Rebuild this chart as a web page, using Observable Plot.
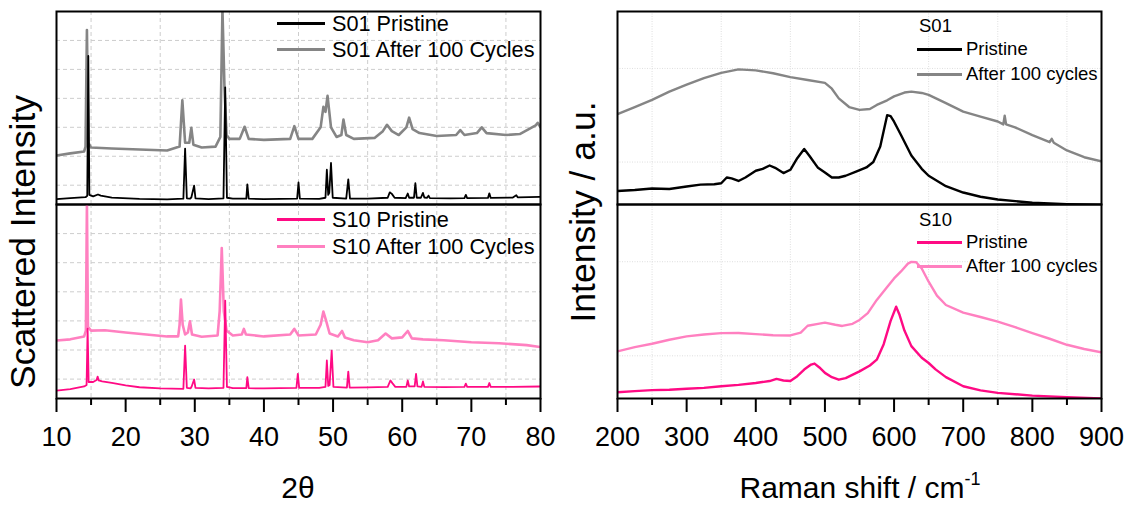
<!DOCTYPE html>
<html><head><meta charset="utf-8">
<script src="https://cdn.jsdelivr.net/npm/d3@7"></script>
<script src="https://cdn.jsdelivr.net/npm/@observablehq/plot@0.6"></script>
<style>
body{margin:0;background:#fff;}
#chart{position:relative;width:1126px;height:505px;overflow:hidden;font-family:"Liberation Sans",Arial,Helvetica,sans-serif;color:#000;background:#fff;}
.lab{position:absolute;white-space:nowrap;line-height:1;}
.leg{position:absolute;display:flex;align-items:center;white-space:nowrap;line-height:1;}
.leg .sw{display:inline-block;}
</style></head><body><div id="chart"></div>
<script>
// ---------- axis ticks / grid ----------
const xrdTicks = [10, 20, 30, 40, 50, 60, 70, 80];
const xrdMinor = [15, 25, 35, 45, 55, 65, 75];
const ramanTicks = [200, 300, 400, 500, 600, 700, 800, 900];
const ramanMinor = [250, 350, 450, 550, 650, 750, 850];
const xrdGridY = [10, 25, 40, 55, 70, 85];
const ramanGridY = [22, 70.5];

// ---------- series names ----------
const xrdTopNames = ["S01 Pristine", "S01 After 100 Cycles"];
const xrdBotNames = ["S10 Pristine", "S10 After 100 Cycles"];
const ramanTopHead = "S01";
const ramanBotHead = "S10";
const ramanNames = ["Pristine", "After 100 cycles"];

// ---------- XRD (2θ, intensity a.u.) ----------
const xrdS01Pristine = [[10,2.8],[12,3.3],[14.2,3.8],[14.45,4.5],[14.6,77],[14.75,5],[15.3,4.2],[16.0,5.2],[16.4,4.6],[18,3.6],[22,2.9],[26,2.7],[28.35,3],[28.6,29],[28.85,3.2],[29.3,3],[29.5,3.6],[29.9,9.8],[30.1,3.2],[32,2.8],[34.15,3.2],[34.4,60.7],[34.65,3.5],[35.5,3],[37.45,3],[37.6,10.4],[37.8,3],[40,2.8],[44.8,3],[45.0,11.4],[45.2,3],[48,2.9],[48.9,3.5],[49.1,18],[49.3,5],[49.45,6],[49.7,21.5],[49.95,3.5],[51.9,3],[52.2,13],[52.45,3],[55,3],[57.9,3.5],[58.2,6.3],[58.5,5.5],[58.9,3.5],[60.5,3.3],[60.8,5.7],[61.0,3.5],[61.7,3.5],[61.9,11],[62.1,3.5],[62.7,3.5],[63.0,6],[63.2,3.6],[63.6,3.5],[63.8,4.6],[64,3.3],[67,3.2],[69.0,3.3],[69.2,5],[69.4,3.3],[72.4,3.4],[72.6,5.8],[72.8,3.4],[76,3.6],[76.5,4.8],[76.7,3.7],[80,4]];
const xrdS01After = [[10,25.4],[12,26.5],[14.0,27.5],[14.2,30],[14.4,90.4],[14.6,32],[15,29.5],[18,29],[22,28.5],[26,28],[27.8,30],[28.2,54],[28.6,32],[29.2,32],[29.5,39.7],[29.8,31],[31,29.5],[33,30],[33.7,35],[34.0,101],[34.3,60],[34.6,36],[35,34],[36.5,34],[37.2,40.3],[37.8,34],[40,33.5],[43.8,34],[44.4,40.6],[45,34],[47,34],[48.2,40],[48.6,50.6],[48.9,48],[49.2,56.3],[49.7,40],[50.5,35],[51.2,36],[51.5,44],[51.9,36],[53,34],[56,34.5],[57.2,38],[57.8,41.3],[58.5,38],[59.5,36],[60.6,40],[61.0,45],[61.5,39],[62.5,37],[65,35.5],[67.8,36],[68.4,38.5],[69,36],[70.8,37],[71.5,40],[72.2,37],[75,36],[77,36.5],[79.3,41],[79.6,42.3],[80,40]];
const xrdS10Pristine = [[10,4.1],[12,4.8],[14,6.2],[14.35,7],[14.5,36],[14.65,8.5],[15.3,8.5],[15.8,9.5],[15.95,11.3],[16.1,9.3],[16.6,8.8],[18,8],[20,6.8],[22,5.8],[25,5.2],[28.35,5],[28.6,27.3],[28.85,5.5],[29.4,5.2],[29.55,6.2],[29.9,9.8],[30.1,5.5],[32,5.2],[34.15,5.5],[34.4,50.5],[34.65,6],[35.5,5.3],[37.45,5.3],[37.6,11],[37.8,5.3],[40,5.2],[44.7,5.5],[44.9,12.7],[45.1,5.5],[48,5.5],[48.9,6],[49.1,19.6],[49.3,6.5],[49.5,7],[49.8,24.7],[50.05,6],[52,5.6],[52.2,13.9],[52.4,5.6],[55,5.7],[57.9,6],[58.3,9.3],[58.6,7.8],[59,6],[60.6,6],[60.8,9.3],[61,6.2],[61.8,6.2],[62,12.7],[62.2,6.2],[62.8,6],[63,8.8],[63.2,6],[66,5.9],[69,6],[69.2,7.7],[69.4,6],[72.4,6],[72.6,8],[72.8,6],[76,6],[80,6.2]];
const xrdS10After = [[10,29.9],[12,30.5],[14.0,32],[14.25,35],[14.4,100.5],[14.55,37],[15,35],[17,35.2],[20,34],[23,33],[26,32],[27.6,32],[27.8,38],[28.0,51],[28.25,38],[28.6,33],[29.0,34],[29.3,39.8],[29.6,33],[31,31.8],[33.3,32.5],[33.6,45],[33.9,77.5],[34.2,45],[34.6,35],[35.5,32.5],[36.8,33],[37.1,35.9],[37.4,33],[40,32],[43.8,33],[44.4,35.9],[45,32.5],[47.5,33],[48.2,38],[48.6,44.8],[49.0,40],[49.5,33.5],[50.7,32],[51.3,34.8],[51.7,31.5],[53,30],[55,29],[56.5,30],[57.6,33.5],[58.5,31],[60,31.5],[60.8,34.8],[61.4,31],[63,30.5],[66,30],[70,29],[74,28.5],[78,27.5],[80,26.5]];

// ---------- Raman (shift cm-1, intensity a.u.) ----------
const ramanS01Pristine = [[200,7.0],[225,7.5],[250,8.3],[275,8.0],[300,9.3],[320,10.3],[340,10.5],[350,11],[358,14],[365,13.5],[375,12.2],[385,14],[400,17.5],[410,18.5],[420,20.2],[428,19],[440,16.3],[450,18],[460,24],[470,28.8],[478,25],[490,19],[500,16.6],[510,14],[520,14],[530,14.9],[545,17],[560,19.2],[570,22],[580,30],[590,46.3],[595,45.8],[600,42.9],[610,36],[625,25.4],[640,18.5],[650,14.9],[675,9.5],[700,6.2],[725,4],[750,2.6],[800,0.9],[850,0.2],[900,-0.3]];
const ramanS01After = [[200,46.8],[225,50.5],[250,54.2],[275,58.5],[300,62.1],[325,65.5],[350,68.2],[375,70],[400,69.5],[425,68],[450,66],[475,64.5],[500,63],[510,60],[520,55],[535,50.5],[550,49],[565,49.5],[575,51.6],[590,54],[600,56],[615,58],[625,58.5],[640,57.8],[650,56.8],[675,52.5],[700,48.1],[725,45.5],[750,43],[758,41.5],[760,46],[762,41.5],[775,40],[800,35.9],[825,32.3],[828,34],[831,32],[850,28],[875,24.5],[900,22.3]];
const ramanS10Pristine = [[200,3.2],[225,3.8],[250,4.3],[275,4.5],[300,5],[325,5.5],[350,6.3],[375,7],[400,8],[420,9],[430,10.1],[440,9.3],[450,9],[460,11.5],[470,14.9],[480,17.5],[485,18],[492,16],[500,13.2],[510,11],[520,9.7],[530,10.5],[550,14],[565,17],[575,20],[585,28],[595,40],[603,47.3],[608,43],[615,35],[625,27],[640,21],[650,18.3],[660,15],[675,11],[700,6.3],[725,4.2],[750,2.9],[800,1.5],[850,0.7],[900,0]];
const ramanS10After = [[200,24.3],[225,26.5],[250,28.2],[275,30.3],[300,32],[325,33],[350,33.7],[375,33.8],[400,33.2],[425,32.6],[450,32.5],[465,34],[475,37.5],[490,38.5],[500,39.1],[515,38],[525,37.4],[540,38.5],[550,40.5],[562,44],[575,50.8],[590,57.5],[600,61.9],[610,65.5],[620,69.5],[625,70.4],[632,70.2],[640,67],[650,60.2],[662,53],[675,48.2],[700,44.3],[725,42],[750,39.6],[775,36.8],[800,33.7],[825,30.8],[850,27.7],[875,25.5],[900,23.8]];

// ---------- colours ----------
const BLACK = "#000000", GREY = "#858585", PINK = "#ff0a84", LPINK = "#ff80c0";

const FONT = '"Liberation Sans", Arial, Helvetica, sans-serif';
const chart = document.getElementById("chart");

function panel({left, top, series, domain, gridX, gridY, gridStyle, bottom, ticks, minor}) {
  const mT = 2, mB = bottom ? 60 : 2, mL = 2, mR = 2, h = bottom ? 194 : 193;
  const marks = [
    Plot.ruleX(gridX, {stroke: gridStyle.stroke, strokeDasharray: gridStyle.dash, strokeWidth: 1}),
    Plot.ruleY(gridY, {stroke: gridStyle.stroke, strokeDasharray: gridStyle.dash, strokeWidth: 1}),
    ...series.map(s => Plot.line(s.data, {x: d => d[0], y: d => d[1], stroke: s.color, strokeWidth: s.w, clip: true, strokeLinejoin: "round"})),
    Plot.frame({stroke: "#000", strokeWidth: 2})
  ];
  if (bottom) {
    marks.push(Plot.axisX({ticks: ticks, tickSize: 14, tickPadding: 14, strokeWidth: 2, label: null}));
    marks.push(Plot.axisX({ticks: minor, tickSize: 7, strokeWidth: 2, tickFormat: () => "", label: null}));
  }
  const svg = Plot.plot({
    width: 484 + mL + mR, height: h + mT + mB,
    marginLeft: mL, marginRight: mR, marginTop: mT, marginBottom: mB,
    x: {domain: domain, axis: bottom ? undefined : null},
    y: {domain: [0, 100], axis: null},
    style: {background: "transparent", fontFamily: FONT, fontSize: "27px", overflow: "visible", color: "#000"},
    marks
  });
  svg.style.position = "absolute";
  svg.style.left = (left - mL) + "px";
  svg.style.top = (top - mT) + "px";
  svg.style.maxWidth = "none";
  chart.append(svg);
}

const dashGrid = {stroke: "#cdcdcd", dash: "4,3"};
const dotGrid = {stroke: "#dedede", dash: "1,1.5"};

panel({left: 56, top: 11, domain: [10, 80], gridX: xrdMinor, gridY: xrdGridY, gridStyle: dashGrid, bottom: false,
  series: [{data: xrdS01After, color: GREY, w: 2.6}, {data: xrdS01Pristine, color: BLACK, w: 1.8}]});
panel({left: 56, top: 204, domain: [10, 80], gridX: xrdMinor, gridY: xrdGridY, gridStyle: dashGrid, bottom: true, ticks: xrdTicks, minor: xrdMinor,
  series: [{data: xrdS10After, color: LPINK, w: 2.6}, {data: xrdS10Pristine, color: PINK, w: 1.8}]});
panel({left: 617, top: 11, domain: [200, 900], gridX: ramanMinor, gridY: ramanGridY, gridStyle: dotGrid, bottom: false,
  series: [{data: ramanS01After, color: GREY, w: 2.4}, {data: ramanS01Pristine, color: BLACK, w: 2.4}]});
panel({left: 617, top: 204, domain: [200, 900], gridX: ramanMinor, gridY: ramanGridY, gridStyle: dotGrid, bottom: true, ticks: ramanTicks, minor: ramanMinor,
  series: [{data: ramanS10After, color: LPINK, w: 2.4}, {data: ramanS10Pristine, color: PINK, w: 2.4}]});

// ---------- legends (HTML) ----------
function legendRow(x, cy, color, text, lineW, fs, gap) {
  const d = document.createElement("div");
  d.className = "leg";
  d.style.left = x + "px"; d.style.top = (cy - fs / 2) + "px"; d.style.height = fs + "px"; d.style.fontSize = fs + "px";
  if (color) {
    const sw = document.createElement("span");
    sw.className = "sw";
    sw.style.width = lineW + "px"; sw.style.height = "3px"; sw.style.background = color; sw.style.marginRight = gap + "px";
    d.append(sw);
  }
  const t = document.createElement("span"); t.textContent = text; d.append(t);
  chart.append(d);
}
legendRow(277, 24, BLACK, xrdTopNames[0], 48, 21.7, 7);
legendRow(277, 50, GREY, xrdTopNames[1], 48, 21.7, 7);
legendRow(277, 220, PINK, xrdBotNames[0], 48, 21.7, 7);
legendRow(277, 246.5, LPINK, xrdBotNames[1], 48, 21.7, 7);
legendRow(919, 26.5, null, ramanTopHead, 0, 18.5, 0);
legendRow(917, 49.5, BLACK, ramanNames[0], 45, 18.5, 4);
legendRow(917, 74, GREY, ramanNames[1], 45, 18.5, 4);
legendRow(919, 220, null, ramanBotHead, 0, 18.5, 0);
legendRow(917, 242, PINK, ramanNames[0], 45, 18.5, 4);
legendRow(917, 266, LPINK, ramanNames[1], 45, 18.5, 4);

// ---------- axis titles ----------
function title(html, cx, cy, fs, rotate) {
  const d = document.createElement("div");
  d.className = "lab";
  d.style.fontSize = fs + "px";
  d.innerHTML = html;
  d.style.left = cx + "px"; d.style.top = cy + "px";
  d.style.transform = "translate(-50%,-50%)" + (rotate ? " rotate(-90deg)" : "");
  chart.append(d);
}
title("Scattered Intensity", 24, 242, 35.5, true);
title("Intensity / a.u.", 584, 212, 35.5, true);
title("2θ", 298, 488, 30, false);
title('Raman shift / cm<span style="font-size:18px;position:relative;top:-13px;">-1</span>', 860, 488, 30, false);
</script></body></html>
